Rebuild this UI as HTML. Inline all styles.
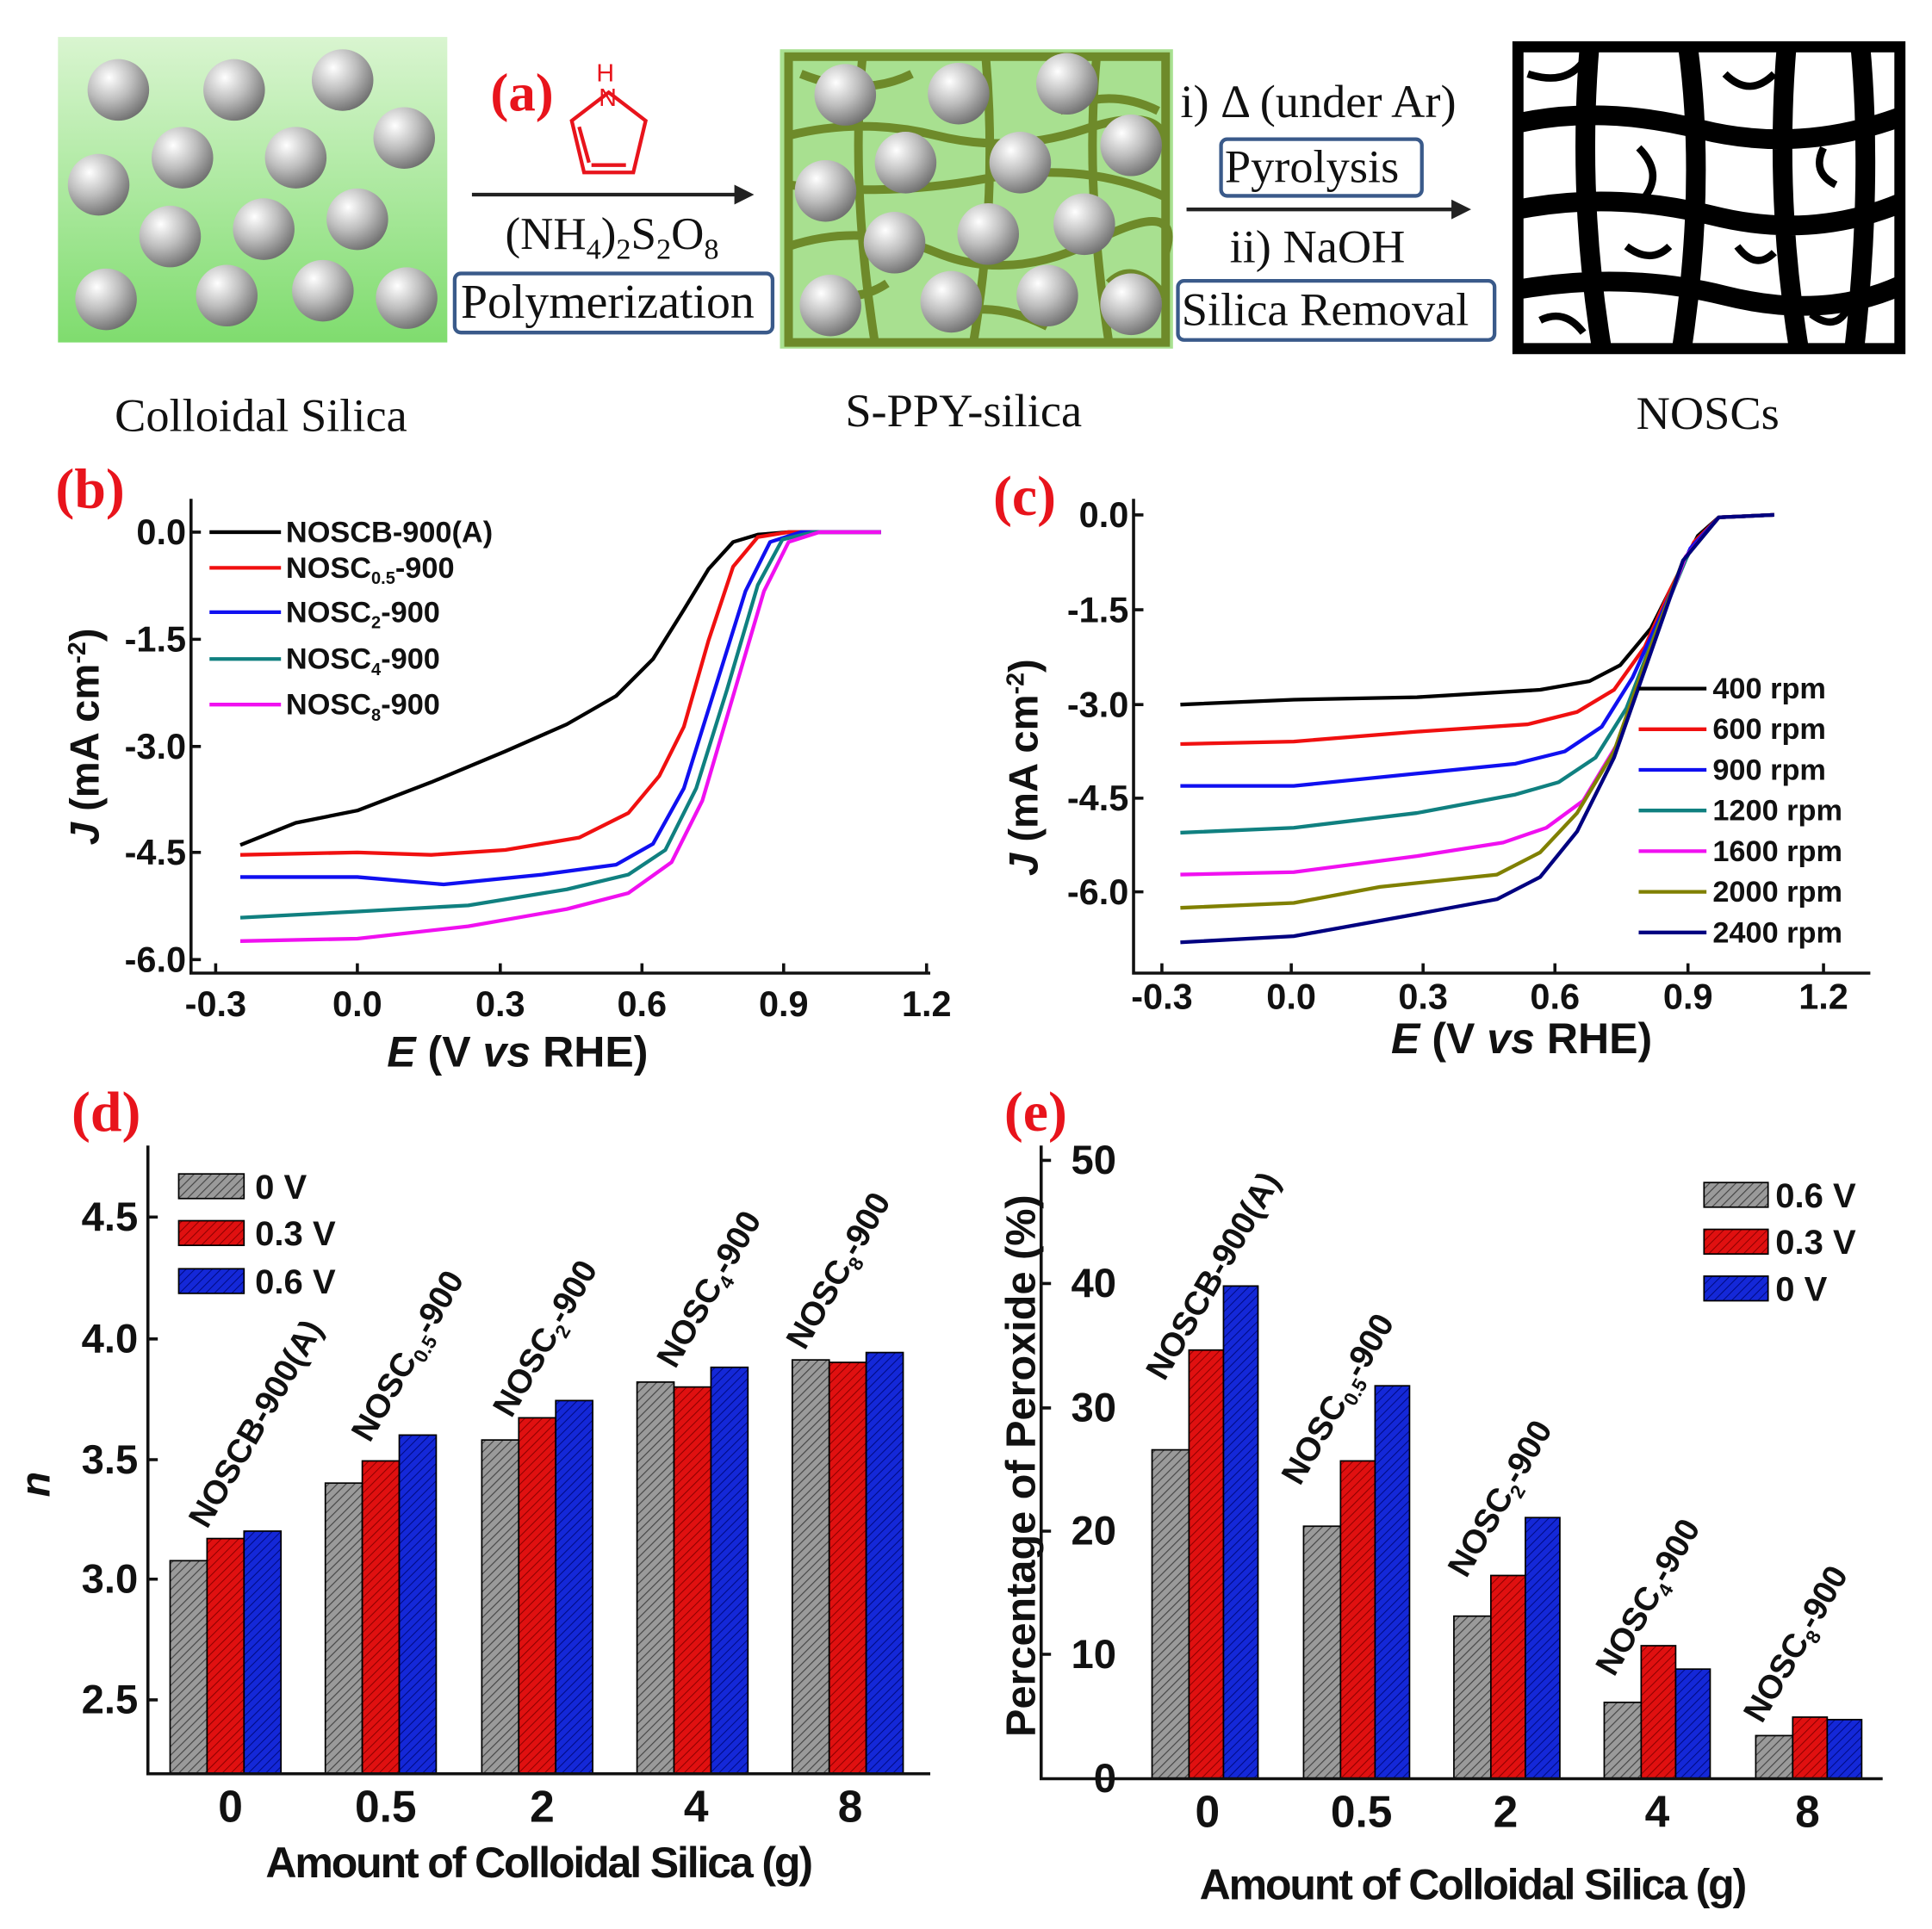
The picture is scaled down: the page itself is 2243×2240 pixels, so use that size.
<!DOCTYPE html>
<html><head><meta charset="utf-8"><style>
html,body{margin:0;padding:0;background:#fff}
svg{display:block}
.ax{font-family:"Liberation Sans",sans-serif;font-weight:bold;fill:#111}
.sr{font-family:"Liberation Serif",serif;fill:#111}
.pl{font-family:"Liberation Serif",serif;font-weight:bold;fill:#e8141c}
</style></head><body>
<svg width="2243" height="2240" viewBox="0 0 1568 1566" xmlns="http://www.w3.org/2000/svg">
<defs>
<linearGradient id="gg" x1="0" y1="0" x2="0" y2="1"><stop offset="0" stop-color="#d9f5d0"/><stop offset="1" stop-color="#7fdc6e"/></linearGradient>
<radialGradient id="sp" cx="0.35" cy="0.3" r="0.75"><stop offset="0" stop-color="#ffffff"/><stop offset="0.5" stop-color="#bdbdbd"/><stop offset="1" stop-color="#6e6e6e"/></radialGradient>
<pattern id="hg" width="5" height="5" patternUnits="userSpaceOnUse" patternTransform="rotate(45)"><rect width="5" height="5" fill="#9a9a9a"/><line x1="0" y1="0" x2="0" y2="5" stroke="#444" stroke-width="1.6"/></pattern>
<pattern id="hr" width="5" height="5" patternUnits="userSpaceOnUse" patternTransform="rotate(45)"><rect width="5" height="5" fill="#e01010"/><line x1="0" y1="0" x2="0" y2="5" stroke="#8a0000" stroke-width="1.4"/></pattern>
<pattern id="hb" width="5" height="5" patternUnits="userSpaceOnUse" patternTransform="rotate(45)"><rect width="5" height="5" fill="#1428d8"/><line x1="0" y1="0" x2="0" y2="5" stroke="#000a80" stroke-width="1.4"/></pattern>
</defs>
<rect width="1568" height="1566" fill="#fff"/>

<!-- Panel a -->
<rect x="47" y="30" width="316" height="248" fill="url(#gg)"/>
<g fill="url(#sp)">
<circle cx="96" cy="73" r="25"/><circle cx="190" cy="73" r="25"/><circle cx="278" cy="65" r="25"/><circle cx="328" cy="112" r="25"/>
<circle cx="148" cy="128" r="25"/><circle cx="240" cy="128" r="25"/><circle cx="80" cy="150" r="25"/>
<circle cx="138" cy="192" r="25"/><circle cx="214" cy="186" r="25"/><circle cx="290" cy="178" r="25"/>
<circle cx="86" cy="243" r="25"/><circle cx="184" cy="240" r="25"/><circle cx="262" cy="236" r="25"/><circle cx="330" cy="242" r="25"/>
</g>
<text x="398" y="90" class="pl" font-size="44">(a)</text>
<g stroke="#e8141c" stroke-width="3" fill="none"><path d="M494 75 L524 98 L514 140 L474 140 L464 98 Z"/><line x1="480" y1="134" x2="508" y2="134"/><line x1="470" y1="103" x2="478" y2="132"/></g>
<text x="484" y="66" fill="#e8141c" font-family="Liberation Sans,sans-serif" font-size="20">H</text>
<text x="486" y="86" fill="#e8141c" font-family="Liberation Sans,sans-serif" font-size="20">N</text>
<line x1="383" y1="158" x2="600" y2="158" stroke="#222" stroke-width="3"/><path d="M612 158 L596 150 L596 166Z" fill="#222"/>
<text x="410" y="202" class="sr" font-size="37">(NH<tspan font-size="24" dy="8">4</tspan><tspan dy="-8">)</tspan><tspan font-size="24" dy="8">2</tspan><tspan dy="-8">S</tspan><tspan font-size="24" dy="8">2</tspan><tspan dy="-8">O</tspan><tspan font-size="24" dy="8">8</tspan></text>
<rect x="369" y="222" width="258" height="48" rx="5" fill="none" stroke="#3a5a8a" stroke-width="3"/>
<text x="374" y="258" class="sr" font-size="39">Polymerization</text>
<rect x="633" y="40" width="319" height="243" fill="#a8e090"/>
<g stroke="#6e8a2a" stroke-width="7" fill="none">
<rect x="640" y="46" width="306" height="232"/>
<path d="M640 110 Q700 95 760 110 T880 105 T946 115 M640 200 Q700 180 760 205 T890 195 T946 205 M700 46 Q690 150 710 278 M800 46 Q810 160 790 278 M890 46 Q880 150 900 278 M640 150 Q720 160 800 145 T946 160 M650 60 Q700 80 740 60 M760 260 Q800 240 850 265 M660 230 Q690 250 720 230 M860 90 Q900 70 940 90 M900 230 Q920 210 945 240"/>
</g>
<g fill="url(#sp)">
<circle cx="686" cy="77" r="25"/><circle cx="778" cy="76" r="25"/><circle cx="866" cy="68" r="25"/><circle cx="918" cy="118" r="25"/>
<circle cx="735" cy="132" r="25"/><circle cx="828" cy="132" r="25"/><circle cx="670" cy="155" r="25"/>
<circle cx="726" cy="197" r="25"/><circle cx="802" cy="190" r="25"/><circle cx="880" cy="182" r="25"/>
<circle cx="674" cy="248" r="25"/><circle cx="772" cy="245" r="25"/><circle cx="850" cy="240" r="25"/><circle cx="918" cy="247" r="25"/>
</g>
<text x="958" y="95" class="sr" font-size="38">i) Δ (under Ar)</text>
<rect x="991" y="113" width="163" height="46" rx="5" fill="none" stroke="#3a5a8a" stroke-width="3"/>
<text x="994" y="148" class="sr" font-size="38">Pyrolysis</text>
<line x1="963" y1="170" x2="1180" y2="170" stroke="#222" stroke-width="3"/><path d="M1194 170 L1178 162 L1178 178Z" fill="#222"/>
<text x="998" y="213" class="sr" font-size="38">ii) NaOH</text>
<rect x="956" y="228" width="257" height="48" rx="5" fill="none" stroke="#3a5a8a" stroke-width="3"/>
<text x="959" y="264" class="sr" font-size="38">Silica Removal</text>
<g stroke="#000" fill="none">
<rect x="1232" y="38" width="310" height="245" stroke-width="9"/>
<g stroke-width="16">
<path d="M1232 100 Q1300 85 1380 105 T1542 95 M1232 170 Q1310 155 1390 175 T1542 165 M1232 235 Q1320 220 1400 240 T1542 232 M1290 38 Q1280 160 1300 283 M1370 38 Q1385 150 1365 283 M1450 38 Q1440 160 1460 283 M1510 38 Q1520 150 1505 283"/>
</g>
<g stroke-width="6"><path d="M1240 60 Q1270 70 1285 50 M1330 120 Q1350 140 1335 160 M1400 60 Q1420 80 1440 60 M1480 120 Q1470 140 1490 150 M1320 200 Q1340 215 1355 200 M1410 200 Q1425 220 1440 205 M1250 260 Q1270 250 1285 270 M1470 255 Q1490 270 1500 250"/></g>
</g>
<text x="93" y="350" class="sr" font-size="38">Colloidal Silica</text>
<text x="686" y="346" class="sr" font-size="38">S-PPY-silica</text>
<text x="1328" y="348" class="sr" font-size="38">NOSCs</text>

<!-- Panel b -->
<text x="45" y="412" class="pl" font-size="46">(b)</text>
<g stroke="#111" stroke-width="2.5" fill="none"><path d="M155 405 V790 H755"/>
<path d="M155 432h8M155 519h8M155 606h8M155 692h8M155 779h8M175 790v-8M290 790v-8M406 790v-8M521 790v-8M636 790v-8M752 790v-8"/></g>
<g class="ax" font-size="29" text-anchor="end"><text x="151" y="442">0.0</text><text x="151" y="529">-1.5</text><text x="151" y="616">-3.0</text><text x="151" y="702">-4.5</text><text x="151" y="789">-6.0</text></g>
<g class="ax" font-size="29" text-anchor="middle"><text x="175" y="825">-0.3</text><text x="290" y="825">0.0</text><text x="406" y="825">0.3</text><text x="521" y="825">0.6</text><text x="636" y="825">0.9</text><text x="752" y="825">1.2</text></g>
<text x="420" y="866" class="ax" font-size="35" text-anchor="middle"><tspan font-style="italic">E</tspan> (V <tspan font-style="italic">vs</tspan> RHE)</text>
<text transform="translate(80,598) rotate(-90)" class="ax" font-size="33" text-anchor="middle"><tspan font-style="italic">J</tspan> (mA cm<tspan font-size="20" dy="-11">-2</tspan><tspan dy="11">)</tspan></text>
<g fill="none" stroke-width="3" stroke-linejoin="round">
<path stroke="#000" d="M195 686 L240 668 L290 658 L350 635 L410 610 L460 588 L500 565 L530 535 L555 495 L575 462 L595 440 L615 434 L640 432 L715 432"/>
<path stroke="#f01010" d="M195 694 L290 692 L350 694 L410 690 L470 680 L510 660 L535 630 L555 590 L575 520 L595 460 L615 436 L640 432 L715 432"/>
<path stroke="#1010f0" d="M195 712 L290 712 L360 718 L440 710 L500 702 L530 685 L555 640 L580 560 L605 480 L625 440 L650 432 L715 432"/>
<path stroke="#108080" d="M195 745 L290 740 L380 735 L460 722 L510 710 L540 690 L565 640 L590 560 L615 475 L635 438 L660 432 L715 432"/>
<path stroke="#f010f0" d="M195 764 L290 762 L380 752 L460 738 L510 725 L545 700 L570 650 L595 565 L620 480 L640 440 L665 432 L715 432"/>
<line x1="170" y1="432" x2="228" y2="432" stroke="#000"/><line x1="170" y1="461" x2="228" y2="461" stroke="#f01010"/><line x1="170" y1="497" x2="228" y2="497" stroke="#1010f0"/><line x1="170" y1="535" x2="228" y2="535" stroke="#108080"/><line x1="170" y1="572" x2="228" y2="572" stroke="#f010f0"/>
</g>
<g class="ax" font-size="24"><text x="232" y="440">NOSCB-900(A)</text><text x="232" y="469">NOSC<tspan font-size="14" dy="5">0.5</tspan><tspan dy="-5">-900</tspan></text><text x="232" y="505">NOSC<tspan font-size="14" dy="5">2</tspan><tspan dy="-5">-900</tspan></text><text x="232" y="543">NOSC<tspan font-size="14" dy="5">4</tspan><tspan dy="-5">-900</tspan></text><text x="232" y="580">NOSC<tspan font-size="14" dy="5">8</tspan><tspan dy="-5">-900</tspan></text></g>

<!-- Panel c -->
<text x="806" y="418" class="pl" font-size="46">(c)</text>
<g stroke="#111" stroke-width="2.5" fill="none"><path d="M920 405 V790 H1518"/>
<path d="M920 418h8M920 495h8M920 572h8M920 648h8M920 724h8M943 790v-8M1048 790v-8M1155 790v-8M1262 790v-8M1370 790v-8M1480 790v-8"/></g>
<g class="ax" font-size="29" text-anchor="end"><text x="916" y="428">0.0</text><text x="916" y="505">-1.5</text><text x="916" y="582">-3.0</text><text x="916" y="658">-4.5</text><text x="916" y="734">-6.0</text></g>
<g class="ax" font-size="29" text-anchor="middle"><text x="943" y="819">-0.3</text><text x="1048" y="819">0.0</text><text x="1155" y="819">0.3</text><text x="1262" y="819">0.6</text><text x="1370" y="819">0.9</text><text x="1480" y="819">1.2</text></g>
<text x="1235" y="855" class="ax" font-size="35" text-anchor="middle"><tspan font-style="italic">E</tspan> (V <tspan font-style="italic">vs</tspan> RHE)</text>
<text transform="translate(842,623) rotate(-90)" class="ax" font-size="33" text-anchor="middle"><tspan font-style="italic">J</tspan> (mA cm<tspan font-size="20" dy="-11">-2</tspan><tspan dy="11">)</tspan></text>
<g fill="none" stroke-width="3" stroke-linejoin="round">
<path stroke="#000" d="M958 572 L1050 568 L1150 566 L1250 560 L1290 553 L1315 540 L1340 510 L1360 470 L1378 435 L1395 420 L1440 418"/>
<path stroke="#f01010" d="M958 604 L1050 602 L1150 594 L1240 588 L1280 578 L1310 560 L1335 525 L1355 480 L1375 440 L1395 420 L1440 418"/>
<path stroke="#1010f0" d="M958 638 L1050 638 L1150 628 L1230 620 L1270 610 L1300 590 L1325 550 L1350 495 L1372 445 L1395 420 L1440 418"/>
<path stroke="#108080" d="M958 676 L1050 672 L1150 660 L1230 645 L1265 635 L1295 615 L1320 575 L1345 510 L1370 450 L1395 420 L1440 418"/>
<path stroke="#f010f0" d="M958 710 L1050 708 L1150 695 L1220 684 L1255 672 L1285 650 L1315 600 L1340 525 L1368 452 L1395 420 L1440 418"/>
<path stroke="#808000" d="M958 737 L1050 733 L1120 720 L1215 710 L1250 692 L1280 660 L1310 610 L1338 530 L1366 455 L1395 420 L1440 418"/>
<path stroke="#000080" d="M958 765 L1050 760 L1150 742 L1215 730 L1250 712 L1280 675 L1310 615 L1338 535 L1366 455 L1395 420 L1440 418"/>
<line x1="1330" y1="559" x2="1385" y2="559" stroke="#000"/><line x1="1330" y1="592" x2="1385" y2="592" stroke="#f01010"/><line x1="1330" y1="625" x2="1385" y2="625" stroke="#1010f0"/><line x1="1330" y1="658" x2="1385" y2="658" stroke="#108080"/><line x1="1330" y1="691" x2="1385" y2="691" stroke="#f010f0"/><line x1="1330" y1="724" x2="1385" y2="724" stroke="#808000"/><line x1="1330" y1="757" x2="1385" y2="757" stroke="#000080"/>
</g>
<g class="ax" font-size="24"><text x="1390" y="567">400 rpm</text><text x="1390" y="600">600 rpm</text><text x="1390" y="633">900 rpm</text><text x="1390" y="666">1200 rpm</text><text x="1390" y="699">1600 rpm</text><text x="1390" y="732">2000 rpm</text><text x="1390" y="765">2400 rpm</text></g>

<!-- Panel d -->
<text x="58" y="918" class="pl" font-size="46">(d)</text>
<g stroke="#000" stroke-width="1.2">
<rect x="138" y="1267" width="30" height="173" fill="url(#hg)"/><rect x="168" y="1249" width="30" height="191" fill="url(#hr)"/><rect x="198" y="1243" width="30" height="197" fill="url(#hb)"/>
<rect x="264" y="1204" width="30" height="236" fill="url(#hg)"/><rect x="294" y="1186" width="30" height="254" fill="url(#hr)"/><rect x="324" y="1165" width="30" height="275" fill="url(#hb)"/>
<rect x="391" y="1169" width="30" height="271" fill="url(#hg)"/><rect x="421" y="1151" width="30" height="289" fill="url(#hr)"/><rect x="451" y="1137" width="30" height="303" fill="url(#hb)"/>
<rect x="517" y="1122" width="30" height="318" fill="url(#hg)"/><rect x="547" y="1126" width="30" height="314" fill="url(#hr)"/><rect x="577" y="1110" width="30" height="330" fill="url(#hb)"/>
<rect x="643" y="1104" width="30" height="336" fill="url(#hg)"/><rect x="673" y="1106" width="30" height="334" fill="url(#hr)"/><rect x="703" y="1098" width="30" height="342" fill="url(#hb)"/>
<rect x="145" y="953" width="53" height="20" fill="url(#hg)"/><rect x="145" y="991" width="53" height="20" fill="url(#hr)"/><rect x="145" y="1030" width="53" height="20" fill="url(#hb)"/>
</g>
<g stroke="#111" stroke-width="2.5" fill="none"><path d="M120 930 V1440 H755"/><path d="M120 988h8M120 1087h8M120 1185h8M120 1282h8M120 1380h8"/></g>
<g class="ax" font-size="33" text-anchor="end"><text x="112" y="999">4.5</text><text x="112" y="1098">4.0</text><text x="112" y="1196">3.5</text><text x="112" y="1293">3.0</text><text x="112" y="1391">2.5</text></g>
<g class="ax" font-size="36" text-anchor="middle"><text x="187" y="1479">0</text><text x="313" y="1479">0.5</text><text x="440" y="1479">2</text><text x="565" y="1479">4</text><text x="690" y="1479">8</text></g>
<text x="437" y="1524" class="ax" font-size="35" text-anchor="middle" letter-spacing="-1.5">Amount of Colloidal Silica (g)</text>
<text transform="translate(40,1205) rotate(-90)" class="ax" font-size="34" font-style="italic" text-anchor="middle">n</text>
<g class="ax" font-size="28"><text x="207" y="973">0 V</text><text x="207" y="1011">0.3 V</text><text x="207" y="1050">0.6 V</text></g>
<g class="ax" font-size="27">
<text transform="translate(168,1242) rotate(-60)">NOSCB-900(A)</text>
<text transform="translate(300,1172) rotate(-60)">NOSC<tspan font-size="16" dy="6">0.5</tspan><tspan dy="-6">-900</tspan></text>
<text transform="translate(415,1152) rotate(-60)">NOSC<tspan font-size="16" dy="6">2</tspan><tspan dy="-6">-900</tspan></text>
<text transform="translate(548,1112) rotate(-60)">NOSC<tspan font-size="16" dy="6">4</tspan><tspan dy="-6">-900</tspan></text>
<text transform="translate(653,1097) rotate(-60)">NOSC<tspan font-size="16" dy="6">8</tspan><tspan dy="-6">-900</tspan></text>
</g>

<!-- Panel e -->
<text x="815" y="918" class="pl" font-size="46">(e)</text>
<g stroke="#000" stroke-width="1.2">
<rect x="935" y="1177" width="30" height="267" fill="url(#hg)"/><rect x="965" y="1096" width="28" height="348" fill="url(#hr)"/><rect x="993" y="1044" width="28" height="400" fill="url(#hb)"/>
<rect x="1058" y="1239" width="30" height="205" fill="url(#hg)"/><rect x="1088" y="1186" width="28" height="258" fill="url(#hr)"/><rect x="1116" y="1125" width="28" height="319" fill="url(#hb)"/>
<rect x="1180" y="1312" width="30" height="132" fill="url(#hg)"/><rect x="1210" y="1279" width="28" height="165" fill="url(#hr)"/><rect x="1238" y="1232" width="28" height="212" fill="url(#hb)"/>
<rect x="1302" y="1382" width="30" height="62" fill="url(#hg)"/><rect x="1332" y="1336" width="28" height="108" fill="url(#hr)"/><rect x="1360" y="1355" width="28" height="89" fill="url(#hb)"/>
<rect x="1425" y="1409" width="30" height="35" fill="url(#hg)"/><rect x="1455" y="1394" width="28" height="50" fill="url(#hr)"/><rect x="1483" y="1396" width="28" height="48" fill="url(#hb)"/>
<rect x="1383" y="960" width="52" height="20" fill="url(#hg)"/><rect x="1383" y="998" width="52" height="20" fill="url(#hr)"/><rect x="1383" y="1036" width="52" height="20" fill="url(#hb)"/>
</g>
<g stroke="#111" stroke-width="2.5" fill="none"><path d="M845 930 V1444 H1528"/><path d="M845 1343h8M845 1243h8M845 1143h8M845 1042h8M845 942h8"/></g>
<g class="ax" font-size="33" text-anchor="end"><text x="906" y="1455">0</text><text x="906" y="1354">10</text><text x="906" y="1254">20</text><text x="906" y="1154">30</text><text x="906" y="1053">40</text><text x="906" y="953">50</text></g>
<g class="ax" font-size="36" text-anchor="middle"><text x="980" y="1483">0</text><text x="1105" y="1483">0.5</text><text x="1222" y="1483">2</text><text x="1345" y="1483">4</text><text x="1467" y="1483">8</text></g>
<text x="1195" y="1542" class="ax" font-size="35" text-anchor="middle" letter-spacing="-1.5">Amount of Colloidal Silica (g)</text>
<text transform="translate(840,1190) rotate(-90)" class="ax" font-size="34" text-anchor="middle">Percentage of Peroxide (%)</text>
<g class="ax" font-size="28"><text x="1441" y="980">0.6 V</text><text x="1441" y="1018">0.3 V</text><text x="1441" y="1056">0 V</text></g>
<g class="ax" font-size="27">
<text transform="translate(945,1122) rotate(-60)">NOSCB-900(A)</text>
<text transform="translate(1055,1207) rotate(-60)">NOSC<tspan font-size="16" dy="6">0.5</tspan><tspan dy="-6">-900</tspan></text>
<text transform="translate(1190,1282) rotate(-60)">NOSC<tspan font-size="16" dy="6">2</tspan><tspan dy="-6">-900</tspan></text>
<text transform="translate(1310,1362) rotate(-60)">NOSC<tspan font-size="16" dy="6">4</tspan><tspan dy="-6">-900</tspan></text>
<text transform="translate(1430,1400) rotate(-60)">NOSC<tspan font-size="16" dy="6">8</tspan><tspan dy="-6">-900</tspan></text>
</g>
</svg>
</body></html>
